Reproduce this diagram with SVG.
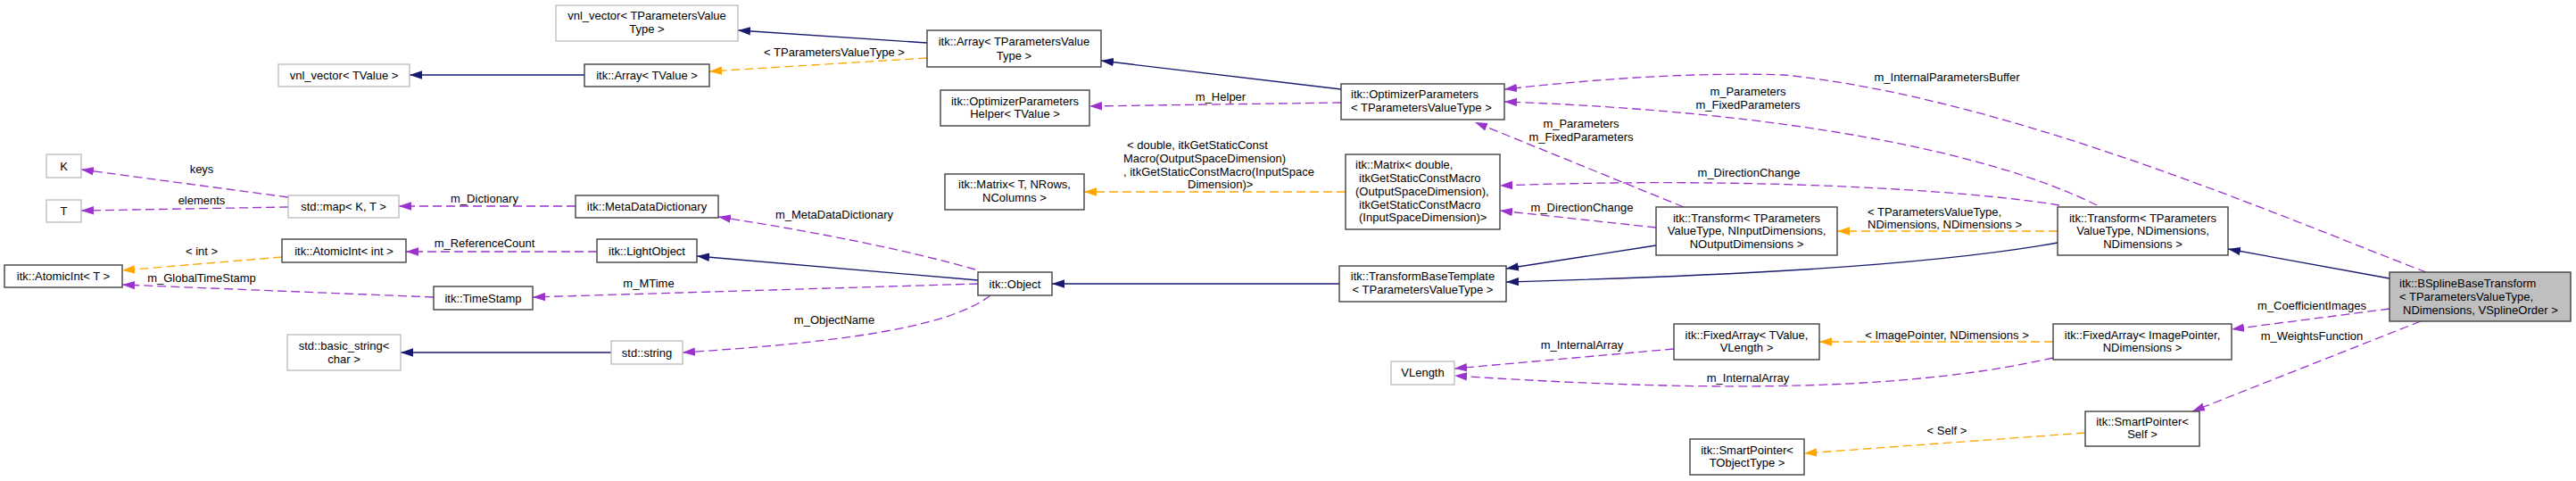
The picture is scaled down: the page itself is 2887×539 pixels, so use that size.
<svg xmlns="http://www.w3.org/2000/svg" width="2887" height="539" viewBox="0 0 2887 539">
<style>
text{font-family:"Liberation Sans",Arial,Helvetica,sans-serif;font-size:13px;fill:#000}
.c{text-anchor:middle}
.n rect{fill:#fff;stroke:#404040;stroke-width:1.4}
.g rect{fill:#fff;stroke:#bfbfbf;stroke-width:1.4}
.sel rect{fill:#bfbfbf;stroke:#404040;stroke-width:1.4}
.i{fill:none;stroke:#191970;stroke-width:1.3;marker-end:url(#ai)}
.m{fill:none;stroke:#9a32cd;stroke-width:1.3;stroke-dasharray:10,5;marker-end:url(#am)}
.t{fill:none;stroke:#ffa500;stroke-width:1.3;stroke-dasharray:10,5;marker-end:url(#at)}
</style>
<defs>
<marker id="ai" markerUnits="userSpaceOnUse" markerWidth="14" markerHeight="10" viewBox="0 0 14 10" refX="14" refY="5" orient="auto"><path d="M0,0.3 L14,5 L0,9.7 z" fill="#191970"/></marker>
<marker id="am" markerUnits="userSpaceOnUse" markerWidth="14" markerHeight="10" viewBox="0 0 14 10" refX="14" refY="5" orient="auto"><path d="M0,0.3 L14,5 L0,9.7 z" fill="#9a32cd"/></marker>
<marker id="at" markerUnits="userSpaceOnUse" markerWidth="14" markerHeight="10" viewBox="0 0 14 10" refX="14" refY="5" orient="auto"><path d="M0,0.3 L14,5 L0,9.7 z" fill="#ffa500"/></marker>
</defs>
<rect width="2887" height="539" fill="#fff"/>

<g id="edges">
<path class="i" d="M655,84 L459,84"/>
<path class="i" d="M685,395 L449,395"/>
<path class="i" d="M1039,48 L827,34"/>
<path class="i" d="M1503,100 L1234,68"/>
<path class="i" d="M1096,314 L781,287"/>
<path class="i" d="M1501,318 L1179,318"/>
<path class="i" d="M1856,275 L1688,301"/>
<path class="i" d="M2306,272 C2150,300 1900,310 1688,316"/>
<path class="i" d="M2678,312 L2497,279"/>

<path class="t" d="M316,288 L137,303"/>
<text class="c" x="226" y="286">&lt; int &gt;</text>
<path class="t" d="M1039,65 L795,80"/>
<text class="c" x="935" y="63">&lt; TParametersValueType &gt;</text>
<path class="t" d="M1508,215 L1215,215"/>
<text x="1263" y="167">&lt; double, itkGetStaticConst</text>
<text x="1259" y="182">Macro(OutputSpaceDimension)</text>
<text x="1259" y="197">, itkGetStaticConstMacro(InputSpace</text>
<text x="1331" y="211">Dimension)&gt;</text>
<path class="t" d="M2306,259 L2059,259"/>
<text x="2093" y="241.5">&lt; TParametersValueType,</text>
<text x="2093" y="255.5">NDimensions, NDimensions &gt;</text>
<path class="t" d="M2301,383 L2039,383"/>
<text class="c" x="2182" y="379.5">&lt; ImagePointer, NDimensions &gt;</text>
<path class="t" d="M2337,485 L2022,508"/>
<text class="c" x="2182" y="486.5">&lt; Self &gt;</text>

<path class="m" d="M323,221 L91,190"/>
<text class="c" x="226" y="194">keys</text>
<path class="m" d="M323,232 L91,236"/>
<text class="c" x="226" y="229">elements</text>
<path class="m" d="M645,231 L447,231"/>
<text class="c" x="543" y="227">m_Dictionary</text>
<path class="m" d="M669,282 L455,282"/>
<text class="c" x="543" y="277">m_ReferenceCount</text>
<path class="m" d="M486,333 L137,319"/>
<text class="c" x="226" y="316">m_GlobalTimeStamp</text>
<path class="m" d="M1096,318 L597,333"/>
<text class="c" x="727" y="322">m_MTime</text>
<path class="m" d="M1093,302 Q980,270 805,243"/>
<text class="c" x="935" y="245">m_MetaDataDictionary</text>
<path class="m" d="M1110,331 C1060,370 920,385 765,395"/>
<text class="c" x="935" y="363">m_ObjectName</text>
<path class="m" d="M1503,115 L1221,119"/>
<text class="c" x="1368" y="113">m_Helper</text>
<path class="m" d="M1887,232 L1653,137"/>
<text class="c" x="1772" y="142.5">m_Parameters</text>
<text class="c" x="1772" y="157.5">m_FixedParameters</text>
<path class="m" d="M2350,230 C2230,170 2000,125 1686,114"/>
<text class="c" x="1959" y="106.5">m_Parameters</text>
<text class="c" x="1959" y="121.5">m_FixedParameters</text>
<path class="m" d="M2308,230 C2200,212 1950,198 1681,208"/>
<text class="c" x="1960" y="197.5">m_DirectionChange</text>
<path class="m" d="M1856,255 L1681,236"/>
<text class="c" x="1773" y="236.5">m_DirectionChange</text>
<path class="m" d="M1876,391 L1630,413"/>
<text class="c" x="1773" y="390.5">m_InternalArray</text>
<path class="m" d="M2301,401 C2150,435 1950,442 1630,421"/>
<text class="c" x="1959" y="427.5">m_InternalArray</text>
<path class="m" d="M2678,346 L2501,369"/>
<text class="c" x="2591" y="346.5">m_CoefficientImages</text>
<path class="m" d="M2713,360 L2457,461"/>
<text class="c" x="2591" y="381">m_WeightsFunction</text>
<path class="m" d="M2719,305 C2550,240 2250,110 2000,84 C1880,80 1760,92 1686,100"/>
<text class="c" x="2182" y="91">m_InternalParametersBuffer</text>
</g>

<g id="vnl_vector_TValue" class="g"><rect x="312" y="72" width="147" height="25"/><text class="c" x="385.5" y="89">vnl_vector&lt; TValue &gt;</text></g>
<g id="K" class="g"><rect x="52" y="173" width="39" height="26"/><text class="c" x="71.5" y="190.5">K</text></g>
<g id="T" class="g"><rect x="52" y="224" width="39" height="25"/><text class="c" x="71.5" y="241">T</text></g>
<g id="std_map" class="g"><rect x="323" y="219" width="124" height="25"/><text class="c" x="385" y="236">std::map&lt; K, T &gt;</text></g>
<g id="AtomicInt_int" class="n"><rect x="316" y="268" width="139" height="26"/><text class="c" x="385.5" y="285.5">itk::AtomicInt&lt; int &gt;</text></g>
<g id="AtomicInt_T" class="n"><rect x="5" y="297" width="132" height="25"/><text class="c" x="71" y="314">itk::AtomicInt&lt; T &gt;</text></g>
<g id="basic_string" class="g"><rect x="322" y="375" width="127" height="40"/><text class="c" x="385.5" y="392">std::basic_string&lt;</text><text class="c" x="385.5" y="407">char &gt;</text></g>
<g id="vnl_vector_TPVT" class="g"><rect x="623" y="6" width="204" height="40"/><text class="c" x="725" y="22">vnl_vector&lt; TParametersValue</text><text class="c" x="725" y="37">Type &gt;</text></g>
<g id="Array_TValue" class="n"><rect x="655" y="72" width="140" height="25"/><text class="c" x="725" y="89">itk::Array&lt; TValue &gt;</text></g>
<g id="MetaDataDictionary" class="n"><rect x="645" y="219" width="160" height="25"/><text class="c" x="725" y="236">itk::MetaDataDictionary</text></g>
<g id="LightObject" class="n"><rect x="669" y="268" width="112" height="26"/><text class="c" x="725" y="285.5">itk::LightObject</text></g>
<g id="TimeStamp" class="n"><rect x="486" y="321" width="111" height="26"/><text class="c" x="541.5" y="338.5">itk::TimeStamp</text></g>
<g id="std_string" class="g"><rect x="685" y="382" width="80" height="26"/><text class="c" x="725" y="399.5">std::string</text></g>
<g id="Object" class="n"><rect x="1096" y="305" width="83" height="26"/><text class="c" x="1137.5" y="322.5">itk::Object</text></g>
<g id="Array_TPVT" class="n"><rect x="1039" y="34" width="195" height="41"/><text class="c" x="1136.5" y="51">itk::Array&lt; TParametersValue</text><text class="c" x="1136.5" y="66.5">Type &gt;</text></g>
<g id="OptimizerParametersHelper" class="n"><rect x="1054" y="101" width="167" height="40"/><text class="c" x="1137.5" y="117.5">itk::OptimizerParameters</text><text class="c" x="1137.5" y="131.5">Helper&lt; TValue &gt;</text></g>
<g id="Matrix_T" class="n"><rect x="1059" y="195" width="156" height="40"/><text class="c" x="1137" y="211">itk::Matrix&lt; T, NRows,</text><text class="c" x="1137" y="226">NColumns &gt;</text></g>
<g id="OptimizerParameters" class="n"><rect x="1503" y="94" width="183" height="40"/><text x="1514" y="110">itk::OptimizerParameters</text><text x="1514" y="125">&lt; TParametersValueType &gt;</text></g>
<g id="Matrix_double" class="n"><rect x="1508" y="173" width="173" height="84"/><text x="1519" y="189">itk::Matrix&lt; double,</text><text x="1523" y="204">itkGetStaticConstMacro</text><text x="1519" y="219">(OutputSpaceDimension),</text><text x="1523" y="233.5">itkGetStaticConstMacro</text><text x="1523" y="248">(InputSpaceDimension)&gt;</text></g>
<g id="TransformBaseTemplate" class="n"><rect x="1501" y="298" width="187" height="40"/><text class="c" x="1594.5" y="314">itk::TransformBaseTemplate</text><text class="c" x="1594.5" y="329">&lt; TParametersValueType &gt;</text></g>
<g id="VLength" class="g"><rect x="1559" y="405" width="71" height="26"/><text class="c" x="1594.5" y="422">VLength</text></g>
<g id="Transform_NInput" class="n"><rect x="1856" y="232" width="203" height="54"/><text class="c" x="1957.5" y="248.7">itk::Transform&lt; TParameters</text><text class="c" x="1957.5" y="263">ValueType, NInputDimensions,</text><text class="c" x="1957.5" y="277.5">NOutputDimensions &gt;</text></g>
<g id="FixedArray_TValue" class="n"><rect x="1876" y="363" width="163" height="40"/><text class="c" x="1957.5" y="379.5">itk::FixedArray&lt; TValue,</text><text class="c" x="1957.5" y="394">VLength &gt;</text></g>
<g id="SmartPointer_TObjectType" class="n"><rect x="1894" y="492" width="128" height="40"/><text class="c" x="1958" y="509">itk::SmartPointer&lt;</text><text class="c" x="1958" y="523">TObjectType &gt;</text></g>
<g id="Transform_NDim" class="n"><rect x="2306" y="232" width="191" height="54"/><text class="c" x="2401.5" y="248.7">itk::Transform&lt; TParameters</text><text class="c" x="2401.5" y="263">ValueType, NDimensions,</text><text class="c" x="2401.5" y="277.5">NDimensions &gt;</text></g>
<g id="FixedArray_ImagePointer" class="n"><rect x="2301" y="363" width="200" height="40"/><text class="c" x="2401" y="379.5">itk::FixedArray&lt; ImagePointer,</text><text class="c" x="2401" y="394">NDimensions &gt;</text></g>
<g id="SmartPointer_Self" class="n"><rect x="2337" y="461" width="128" height="39"/><text class="c" x="2401" y="477">itk::SmartPointer&lt;</text><text class="c" x="2401" y="491">Self &gt;</text></g>
<g id="BSplineBaseTransform" class="sel"><rect x="2678" y="305" width="203" height="55"/><text x="2689" y="322">itk::BSplineBaseTransform</text><text x="2689" y="337">&lt; TParametersValueType,</text><text x="2693" y="352">NDimensions, VSplineOrder &gt;</text></g>
</svg>
